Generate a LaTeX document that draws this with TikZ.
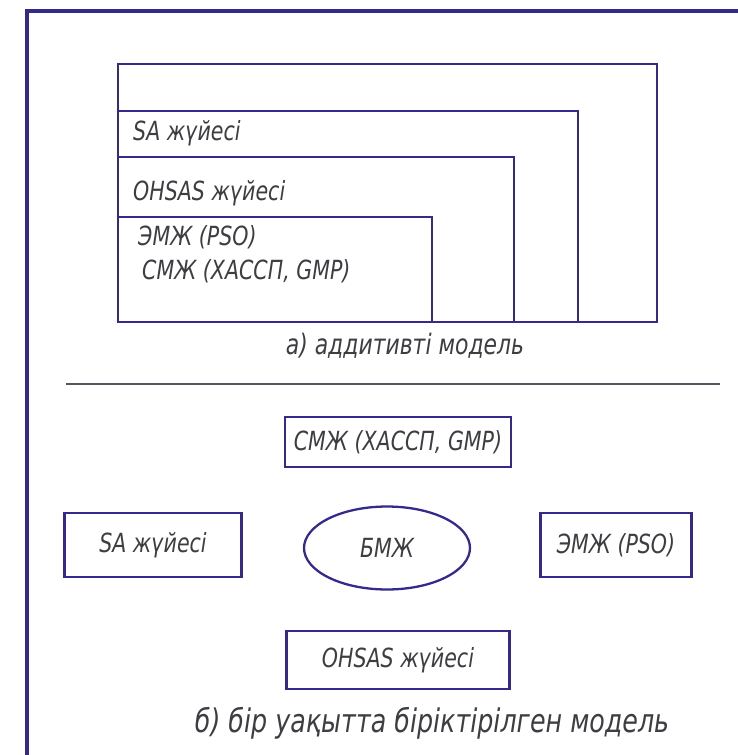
\documentclass[tikz,border=0pt]{standalone}
\usepackage{fontspec}
\setmainfont{DejaVu Sans}[FakeStretch=0.78]
\usetikzlibrary{shapes.geometric}
\definecolor{frameblue}{RGB}{52,42,140}
\definecolor{inkgray}{RGB}{62,62,66}
\definecolor{rulegray}{RGB}{84,84,96}

\tikzset{
  lbl/.style={font=\itshape\fontsize{15}{17}\selectfont, text=inkgray},
  sysbox/.style={draw=frameblue, line width=1.3pt, lbl, inner sep=0pt},
}

\begin{document}
\begin{tikzpicture}[x=0.02cm, y=-0.02cm]
\useasboundingbox (0,0) rectangle (738,755);
\fill[white] (0,0) rectangle (738,755);

% outer sheet frame
\draw[frameblue, line width=1.8pt] (27,755) -- (27,11) -- (738,11);

% a) nested model
\draw[frameblue, line width=1.3pt] (118,322) rectangle (657,64);
\draw[frameblue, line width=1.3pt] (118,322) rectangle (578,111);
\draw[frameblue, line width=1.3pt] (118,322) rectangle (514,157);
\draw[frameblue, line width=1.3pt] (118,322) rectangle (432,217);

\node[lbl, anchor=west] (saA) at (127,133) {SA жүйесі};
\node[lbl, anchor=west] (ohsasA) at (127,193) {OHSAS жүйесі};
\node[lbl, anchor=west] (emzhA) at (132,237) {ЭМЖ (PSO)};
\node[lbl, anchor=west] (smzhA) at (136,271) {СМЖ (ХАССП, GMP)};

\node[lbl, font=\itshape\fontsize{16}{18}\selectfont] (capA) at (405,346) {а) аддитивті модель};

\draw[rulegray, line width=1.2pt] (66,384) -- (720,384);

% b) integrated model
\node[sysbox, minimum width=4.52cm, minimum height=1.0cm] (smzh) at (398,442) {СМЖ (ХАССП, GMP)};
\node[sysbox, minimum width=3.54cm, minimum height=1.28cm] (sa) at (153,545) {SA жүйесі};
\node[sysbox, ellipse, minimum width=3.32cm, minimum height=1.66cm] (bmzh) at (387,548) {БМЖ};
\node[sysbox, minimum width=3.02cm, minimum height=1.28cm] (emzh) at (616,545) {ЭМЖ (PSO)};
\node[sysbox, minimum width=4.46cm, minimum height=1.16cm] (ohsas) at (398,660) {OHSAS жүйесі};

\node[lbl, font=\itshape\fontsize{18.5}{20}\selectfont] (capB) at (432,723) {б) бір уақытта біріктірілген модель};
\end{tikzpicture}
\end{document}
